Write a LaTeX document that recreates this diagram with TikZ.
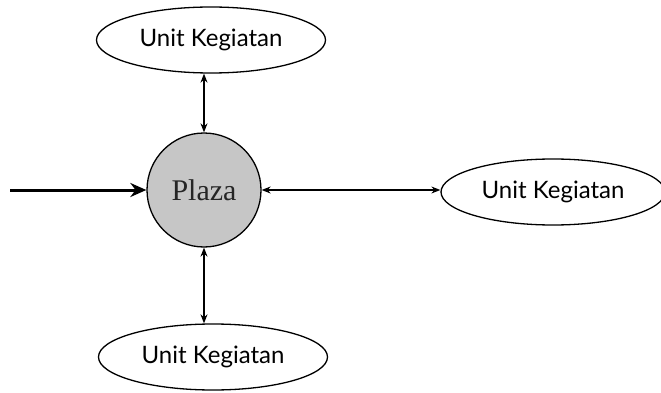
\documentclass[tikz,border=0pt]{standalone}
\usepackage{fontspec}
\setmainfont{Lato}
\newfontfamily\plazafont{Liberation Serif}
\usetikzlibrary{shapes.geometric,arrows.meta}
\begin{document}
\begin{tikzpicture}[x=1pt,y=-1pt,
  unit/.style={draw,line width=1.3pt,ellipse,minimum width=#1,minimum height=66pt,inner sep=0pt,font=\fontsize{24}{28}\selectfont},
  link/.style={draw,line width=1.2pt,{Stealth[length=9pt,width=7pt]}-{Stealth[length=9pt,width=7pt]}},
  feed/.style={draw,line width=3pt,-{Stealth[length=16pt,width=14pt]}}]
\useasboundingbox (0,0) rectangle (661,393);
\node[unit=229pt] (top) at (211,40) {Unit Kegiatan};
\node[unit=229pt] (bot) at (213,357) {Unit Kegiatan};
\node[unit=224pt] (right) at (553,192) {Unit Kegiatan};
\node[circle,draw,line width=1.3pt,fill=gray!45,minimum size=114pt,inner sep=0pt,text=black!85,font=\plazafont\fontsize{30}{32}\selectfont] (plaza) at (204,190) {Plaza};
\coordinate (src) at (10,190);
\draw[link] (top.south -| plaza.north) -- (plaza.north);
\draw[link] (plaza.south) -- (bot.north -| plaza.south);
\draw[link] (plaza.east) -- (plaza.east -| right.west);
\draw[feed] (src) -- (plaza.west);
\end{tikzpicture}
\end{document}
